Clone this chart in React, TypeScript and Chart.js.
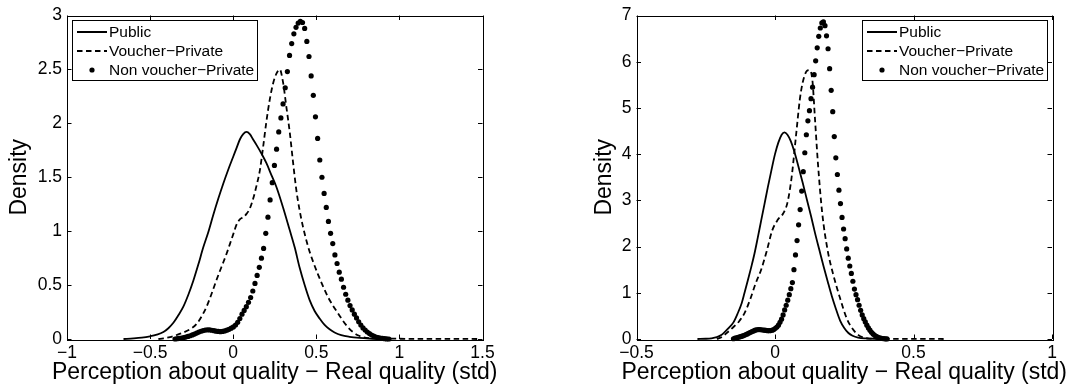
import React, { useEffect, useRef } from "react";
import { Chart, registerables } from "chart.js";

Chart.register(...registerables);

const FONT = "'Liberation Sans', Arial, Helvetica, sans-serif";

// ---------- text ----------
const seriesNames = ["Public", "Voucher\u2212Private", "Non voucher\u2212Private"];
const xTitle = "Perception about quality \u2212 Real quality (std)";
const yTitle = "Density";

// ---------- tick values ----------
const leftXTicks = [-1, -0.5, 0, 0.5, 1, 1.5];
const leftYTicks = [0, 0.5, 1, 1.5, 2, 2.5, 3];
const rightXTicks = [-0.5, 0, 0.5, 1];
const rightYTicks = [0, 1, 2, 3, 4, 5, 6, 7];

// ---------- left panel data ----------
const pubLX = [-0.66, -0.6, -0.55, -0.5, -0.46, -0.42, -0.39, -0.36, -0.33, -0.3, -0.27, -0.24, -0.21, -0.18, -0.15, -0.12, -0.09, -0.06, -0.03, 0, 0.02, 0.04, 0.06, 0.08, 0.1, 0.12, 0.14, 0.17, 0.2, 0.23, 0.26, 0.3, 0.34, 0.37, 0.4, 0.43, 0.46, 0.49, 0.52, 0.55, 0.58, 0.61, 0.65, 0.7, 0.76, 0.82, 0.88];
const pubLY = [0, 0.005, 0.012, 0.025, 0.04, 0.065, 0.1, 0.15, 0.22, 0.3, 0.41, 0.54, 0.69, 0.85, 0.99, 1.15, 1.3, 1.44, 1.57, 1.69, 1.77, 1.85, 1.9, 1.92, 1.9, 1.85, 1.8, 1.72, 1.63, 1.52, 1.41, 1.22, 1.01, 0.85, 0.66, 0.5, 0.36, 0.26, 0.19, 0.13, 0.09, 0.06, 0.035, 0.02, 0.01, 0.004, 0];

const vouLX = [-0.45, -0.42, -0.38, -0.34, -0.3, -0.25, -0.22, -0.19, -0.16, -0.13, -0.1, -0.07, -0.04, -0.02, 0, 0.02, 0.04, 0.06, 0.08, 0.1, 0.12, 0.14, 0.16, 0.18, 0.2, 0.22, 0.24, 0.26, 0.28, 0.3, 0.32, 0.34, 0.36, 0.38, 0.4, 0.42, 0.45, 0.48, 0.51, 0.54, 0.57, 0.6, 0.63, 0.66, 0.69, 0.72, 0.75, 0.78, 0.82, 0.88, 0.95, 1.05, 1.15, 1.25, 1.35, 1.48];
const vouLY = [0, 0.006, 0.018, 0.037, 0.06, 0.1, 0.14, 0.21, 0.3, 0.42, 0.55, 0.67, 0.79, 0.88, 0.97, 1.06, 1.11, 1.13, 1.16, 1.21, 1.3, 1.42, 1.56, 1.78, 2.02, 2.22, 2.37, 2.46, 2.5, 2.38, 2.15, 1.92, 1.64, 1.38, 1.19, 1.04, 0.86, 0.72, 0.6, 0.49, 0.39, 0.31, 0.24, 0.17, 0.11, 0.065, 0.035, 0.018, 0.008, 0.004, 0.003, 0.002, 0.002, 0.002, 0.001, 0];

const nvLX = [-0.35, -0.337, -0.324, -0.311, -0.298, -0.285, -0.272, -0.259, -0.246, -0.233,
  -0.22, -0.207, -0.194, -0.181, -0.168, -0.155, -0.142, -0.129, -0.116, -0.103,
  -0.09, -0.077, -0.064, -0.051, -0.038, -0.025, -0.012, 0.001, 0.014, 0.027,
  0.04, 0.053, 0.066, 0.079, 0.092, 0.105, 0.118, 0.131, 0.144, 0.157,
  0.17, 0.183, 0.196, 0.209, 0.222, 0.235, 0.248, 0.261, 0.274, 0.287,
  0.3, 0.313, 0.326, 0.339, 0.352, 0.365, 0.378, 0.391, 0.404, 0.417,
  0.43, 0.443, 0.456, 0.469, 0.482, 0.495, 0.508, 0.521, 0.534, 0.547,
  0.56, 0.573, 0.586, 0.599, 0.612, 0.625, 0.638, 0.651, 0.664, 0.677,
  0.69, 0.703, 0.716, 0.729, 0.742, 0.755, 0.768, 0.781, 0.794, 0.807,
  0.82, 0.833, 0.846, 0.859, 0.872, 0.885, 0.898, 0.911, 0.924, 0.937];
const nvLY = [0, 0.003, 0.006, 0.009, 0.013, 0.018, 0.024, 0.03, 0.038, 0.046,
  0.055, 0.064, 0.072, 0.078, 0.083, 0.085, 0.084, 0.081, 0.077, 0.073,
  0.07, 0.068, 0.07, 0.075, 0.082, 0.09, 0.1, 0.112, 0.13, 0.155,
  0.19, 0.23, 0.265, 0.3, 0.34, 0.385, 0.445, 0.515, 0.59, 0.665,
  0.75, 0.84, 0.98, 1.13, 1.29, 1.45, 1.61, 1.76, 1.92, 2.05,
  2.18, 2.33, 2.48, 2.63, 2.74, 2.83, 2.89, 2.93, 2.945, 2.935,
  2.88, 2.76, 2.62, 2.44, 2.26, 2.06, 1.86, 1.66, 1.5, 1.35,
  1.22, 1.09, 0.98, 0.885, 0.78, 0.7, 0.62, 0.555, 0.48, 0.415,
  0.36, 0.31, 0.27, 0.23, 0.195, 0.16, 0.13, 0.103, 0.083, 0.065,
  0.05, 0.037, 0.026, 0.018, 0.012, 0.008, 0.005, 0.003, 0.001, 0];

// ---------- right panel data ----------
const pubRX = [-0.28, -0.25, -0.23, -0.21, -0.194, -0.18, -0.165, -0.15, -0.135, -0.12, -0.11, -0.098, -0.086, -0.074, -0.062, -0.05, -0.038, -0.026, -0.013, 0, 0.012, 0.024, 0.034, 0.045, 0.057, 0.07, 0.085, 0.1, 0.115, 0.13, 0.145, 0.16, 0.175, 0.19, 0.205, 0.22, 0.235, 0.25, 0.265, 0.28, 0.3, 0.33, 0.37, 0.4];
const pubRY = [0, 0.005, 0.015, 0.04, 0.086, 0.16, 0.25, 0.36, 0.55, 0.78, 1.0, 1.27, 1.55, 1.85, 2.2, 2.56, 2.92, 3.28, 3.65, 4.0, 4.25, 4.42, 4.47, 4.42, 4.28, 4.05, 3.72, 3.38, 3.02, 2.66, 2.28, 1.93, 1.58, 1.25, 0.93, 0.65, 0.4, 0.24, 0.13, 0.07, 0.03, 0.012, 0.004, 0];

const vouRX = [-0.21, -0.19, -0.18, -0.15, -0.13, -0.11, -0.09, -0.07, -0.05, -0.03, -0.01, 0.01, 0.03, 0.045, 0.06, 0.075, 0.09, 0.1, 0.115, 0.125, 0.135, 0.145, 0.155, 0.17, 0.19, 0.21, 0.235, 0.26, 0.28, 0.3, 0.32, 0.34, 0.4, 0.45, 0.5, 0.55, 0.62];
const vouRY = [0, 0.05, 0.1, 0.26, 0.38, 0.56, 0.85, 1.2, 1.5, 1.9, 2.35, 2.58, 2.72, 2.95, 3.5, 4.35, 5.2, 5.55, 5.8, 5.82, 5.6, 4.7, 3.8, 2.75, 1.92, 1.4, 0.88, 0.43, 0.22, 0.09, 0.03, 0.01, 0.005, 0.003, 0.002, 0.002, 0];

const nvRX = [-0.15, -0.1444, -0.1388, -0.1332, -0.1276, -0.122, -0.1164, -0.1108, -0.1052, -0.0996,
  -0.094, -0.0884, -0.0828, -0.0772, -0.0716, -0.066, -0.0604, -0.0548, -0.0492, -0.0436,
  -0.038, -0.0324, -0.0268, -0.0212, -0.0156, -0.01, -0.0044, 0.0012, 0.0068, 0.0124,
  0.018, 0.0236, 0.0292, 0.0348, 0.0404, 0.046, 0.0516, 0.0572, 0.0628, 0.0684,
  0.074, 0.0796, 0.0852, 0.0908, 0.0964, 0.102, 0.1076, 0.1132, 0.1188, 0.1244,
  0.13, 0.1356, 0.1412, 0.1468, 0.1524, 0.158, 0.1636, 0.1692, 0.1748, 0.1804,
  0.186, 0.1916, 0.1972, 0.2028, 0.2084, 0.214, 0.2196, 0.2252, 0.2308, 0.2364,
  0.242, 0.2476, 0.2532, 0.2588, 0.2644, 0.27, 0.2756, 0.2812, 0.2868, 0.2924,
  0.298, 0.3036, 0.3092, 0.3148, 0.3204, 0.326, 0.3316, 0.3372, 0.3428, 0.3484,
  0.354, 0.3596, 0.3652, 0.3708, 0.3764, 0.382, 0.3876, 0.3932, 0.3988, 0.4044];
const nvRY = [0.005, 0.017, 0.027, 0.036, 0.045, 0.056, 0.067, 0.08, 0.095, 0.11,
  0.13, 0.145, 0.16, 0.175, 0.19, 0.2, 0.205, 0.205, 0.2, 0.195,
  0.19, 0.185, 0.18, 0.18, 0.183, 0.19, 0.205, 0.23, 0.26, 0.3,
  0.36, 0.43, 0.52, 0.63, 0.73, 0.84, 0.96, 1.09, 1.22, 1.5,
  1.82, 2.13, 2.47, 2.8, 3.2, 3.62, 4.03, 4.42, 4.72, 4.94,
  5.2, 5.45, 5.72, 6.02, 6.3, 6.55, 6.73, 6.84, 6.86, 6.78,
  6.56, 6.28, 5.85, 5.38, 4.92, 4.38, 3.92, 3.56, 3.22, 2.93,
  2.63, 2.38, 2.17, 1.95, 1.75, 1.58, 1.42, 1.25, 1.08, 0.96,
  0.85, 0.73, 0.62, 0.52, 0.44, 0.37, 0.3, 0.24, 0.19, 0.145,
  0.11, 0.08, 0.057, 0.04, 0.027, 0.018, 0.011, 0.006, 0.003, 0.001];

// ---------- helpers ----------
const pts = (xs: number[], ys: number[]) => xs.map((x, i) => ({ x, y: ys[i] }));
const fmt = (v: number) => String(Math.round(v * 100) / 100).replace("-", "\u2212");

const matlabAxes = {
  id: "matlabAxes",
  afterDraw(chart: any, _args: any, opts: any) {
    const { ctx, chartArea: a, scales } = chart;
    const L = 4.5;
    ctx.save();
    ctx.strokeStyle = "#000";
    ctx.lineWidth = 1;
    ctx.beginPath();
    for (const t of scales.x.ticks) {
      const px = Math.round(scales.x.getPixelForValue(t.value)) + 0.5;
      ctx.moveTo(px, a.bottom); ctx.lineTo(px, a.bottom - L);
      ctx.moveTo(px, a.top); ctx.lineTo(px, a.top + L);
    }
    for (const t of scales.y.ticks) {
      const py = Math.round(scales.y.getPixelForValue(t.value)) + 0.5;
      ctx.moveTo(a.left, py); ctx.lineTo(a.left + L, py);
      ctx.moveTo(a.right, py); ctx.lineTo(a.right - L, py);
    }
    ctx.stroke();
    ctx.strokeRect(Math.round(a.left) + 0.5, Math.round(a.top) + 0.5, Math.round(a.right - a.left), Math.round(a.bottom - a.top));

    // x-axis title (drawn here so it is not squeezed to the axis width)
    ctx.fillStyle = "#000";
    ctx.font = `23px ${FONT}`;
    ctx.textAlign = "center";
    ctx.textBaseline = "middle";
    ctx.fillText(xTitle, (a.left + a.right) / 2, 372.5);

    // legend box
    const W = 185, H = 60;
    const x0 = opts.corner === "left" ? Math.round(a.left) + 5 : Math.round(a.right) - 5 - W;
    const y0 = Math.round(a.top) + 4;
    ctx.fillStyle = "#fff";
    ctx.fillRect(x0, y0, W, H);
    ctx.strokeRect(x0 + 0.5, y0 + 0.5, W, H);
    ctx.font = `15.5px ${FONT}`;
    ctx.textBaseline = "middle";
    ctx.textAlign = "left";
    const rows = [y0 + 12, y0 + 31, y0 + 50];
    chart.data.datasets.forEach((ds: any, i: number) => {
      const cy = rows[i];
      ctx.fillStyle = "#000";
      ctx.strokeStyle = "#000";
      if (ds.showLine) {
        ctx.lineWidth = 2;
        ctx.setLineDash(ds.borderDash || []);
        ctx.beginPath();
        ctx.moveTo(x0 + 5, cy);
        ctx.lineTo(x0 + 35, cy);
        ctx.stroke();
        ctx.setLineDash([]);
      } else {
        ctx.beginPath();
        ctx.arc(x0 + 20, cy, 2.6, 0, Math.PI * 2);
        ctx.fill();
      }
      ctx.fillText(ds.label, x0 + 37, cy + 1);
    });
    ctx.restore();
  },
};

type PanelCfg = {
  width: number;
  padRight: number;
  yWidth: number;
  yTitlePad: number;
  xMin: number; xMax: number; yMax: number;
  xTicks: number[]; yTicks: number[];
  series: { x: number[]; y: number[] }[];
  corner: string;
};

function buildConfig(p: PanelCfg): any {
  const lineBase = { borderColor: "#000", backgroundColor: "#000", borderWidth: 1.8, pointRadius: 0, showLine: true, cubicInterpolationMode: "monotone", fill: false, clip: false };
  return {
    type: "scatter",
    data: {
      datasets: [
        { ...lineBase, label: seriesNames[0], data: pts(p.series[0].x, p.series[0].y) },
        { ...lineBase, label: seriesNames[1], data: pts(p.series[1].x, p.series[1].y), borderDash: [5.5, 3.5] },
        { label: seriesNames[2], data: pts(p.series[2].x, p.series[2].y), showLine: false, pointRadius: 2.6, pointBorderWidth: 0, pointBackgroundColor: "#000", backgroundColor: "#000", borderColor: "#000", clip: false },
      ],
    },
    options: {
      responsive: false,
      devicePixelRatio: 1,
      animation: false,
      events: [],
      layout: { padding: { left: 0, right: p.padRight, top: 14, bottom: 0 } },
      plugins: { legend: { display: false }, tooltip: { enabled: false }, matlabAxes: { corner: p.corner } },
      scales: {
        x: {
          type: "linear", min: p.xMin, max: p.xMax,
          grid: { display: false, drawTicks: false },
          border: { display: false },
          afterBuildTicks: (ax: any) => { ax.ticks = p.xTicks.map((v) => ({ value: v })); },
          afterFit: (s: any) => { s.height = 51; },
          ticks: { color: "#000", padding: 3.8, maxRotation: 0, autoSkip: false, font: { family: FONT, size: 17.5 }, callback: (v: any) => fmt(Number(v)) },
          title: { display: false },
        },
        y: {
          type: "linear", min: 0, max: p.yMax,
          grid: { display: false, drawTicks: false },
          border: { display: false },
          afterBuildTicks: (ax: any) => { ax.ticks = p.yTicks.map((v) => ({ value: v })); },
          afterFit: (s: any) => { s.width = p.yWidth; },
          ticks: { color: "#000", padding: 5, autoSkip: false, font: { family: FONT, size: 17.5 }, callback: (v: any) => fmt(Number(v)) },
          title: { display: true, text: yTitle, color: "#000", font: { family: FONT, size: 23 }, padding: { top: p.yTitlePad, bottom: 0 } },
        },
      },
    },
    plugins: [matlabAxes],
  };
}

const leftPanel: PanelCfg = {
  width: 540, padRight: 57.5, yWidth: 67, yTitlePad: 6.3,
  xMin: -1, xMax: 1.5, yMax: 3,
  xTicks: leftXTicks, yTicks: leftYTicks,
  series: [{ x: pubLX, y: pubLY }, { x: vouLX, y: vouLY }, { x: nvLX, y: nvLY }],
  corner: "left",
};

const rightPanel: PanelCfg = {
  width: 535, padRight: 23, yWidth: 96.5, yTitlePad: 51.2,
  xMin: -0.5, xMax: 1, yMax: 7,
  xTicks: rightXTicks, yTicks: rightYTicks,
  series: [{ x: pubRX, y: pubRY }, { x: vouRX, y: vouRY }, { x: nvRX, y: nvRY }],
  corner: "right",
};

function Panel({ cfg, left }: { cfg: PanelCfg; left: number }) {
  const ref = useRef<HTMLCanvasElement>(null);
  useEffect(() => {
    const chart = new Chart(ref.current as HTMLCanvasElement, buildConfig(cfg));
    return () => chart.destroy();
  }, [cfg]);
  return (
    <canvas
      ref={ref}
      width={cfg.width}
      height={390}
      style={{ position: "absolute", left, top: 0, width: cfg.width, height: 390 }}
    />
  );
}

export default function App() {
  return (
    <div style={{ position: "absolute", left: 0, top: 0, width: 1075, height: 390, background: "#fff", overflow: "hidden" }}>
      <Panel cfg={leftPanel} left={0} />
      <Panel cfg={rightPanel} left={540} />
    </div>
  );
}
